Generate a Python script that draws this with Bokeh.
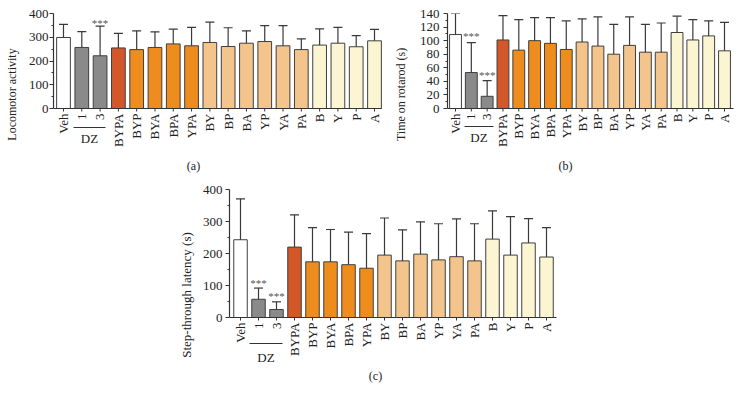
import math
from bokeh.plotting import figure
from bokeh.layouts import column, row
from bokeh.models import Range1d, FixedTicker, Spacer
from bokeh.core.properties import value
from bokeh.embed import file_html
from bokeh.resources import INLINE

categories = ["Veh", "1", "3", "BYPA", "BYP", "BYA", "BPA", "YPA", "BY", "BP",
              "BA", "YP", "YA", "PA", "B", "Y", "P", "A"]
groups = ["veh", "dz", "dz", "four", "three", "three", "three", "three",
          "two", "two", "two", "two", "two", "two", "one", "one", "one", "one"]
group_label = "DZ"

loco_mean = [299, 257, 222, 255, 248, 257, 272, 264, 278, 261, 275, 282, 264, 248, 267, 275, 260, 285]
loco_err = [55, 67, 125, 61, 79, 66, 62, 78, 86, 79, 52, 67, 85, 45, 68, 67, 47, 48]
loco_ticks = [0, 100, 200, 300, 400]

rota_mean = [109, 53, 18, 101, 86, 100, 96, 87, 98, 92, 80, 93, 83, 83, 112, 101, 107, 85]
rota_err = [31, 44, 23, 36, 45, 34, 38, 42, 34, 43, 44, 42, 41, 43, 24, 30, 22, 42]
rota_ticks = [0, 20, 40, 60, 80, 100, 120, 140]

step_mean = [243, 57, 25, 220, 174, 174, 165, 154, 195, 177, 198, 180, 190, 177, 245, 195, 233, 189]
step_err = [128, 35, 24, 101, 107, 101, 102, 108, 116, 97, 101, 113, 118, 116, 88, 120, 76, 92]
step_ticks = [0, 100, 200, 300, 400]

group_colors = {"veh": "#ffffff", "dz": "#8a8a8a", "four": "#d4572a",
                "three": "#ee8c1e", "two": "#f3c48c", "one": "#fbf5d2"}

FONT = "Liberation Serif"
INK = "#222222"
LINE = "#333333"


def make_panel(means, errs, ticks, ylabel, caption, stars, g):
    # g holds page-pixel geometry (layout only)
    fig_w = g["fig_right"] - g["fig_left"]
    fig_h = g["fig_bottom"] - g["fig_top"]
    ppu = (g["y0"] - g["frame_top"]) / ticks[-1]          # px per data unit (y)
    sp = (g["last_x"] - g["first_x"]) / (len(categories) - 1)  # px per category

    def dy(page_y):
        return (g["y0"] - page_y) / ppu

    def dx(page_x):
        return (page_x - g["first_x"]) / sp

    p = figure(width=fig_w, height=fig_h, output_backend="svg", toolbar_location=None,
               x_range=Range1d(dx(g["frame_left"]), dx(g["fig_right"])),
               y_range=Range1d(dy(g["fig_bottom"]), dy(g["frame_top"])),
               min_border_left=g["frame_left"] - g["fig_left"], min_border_right=0,
               min_border_top=g["frame_top"] - g["fig_top"], min_border_bottom=0)
    p.outline_line_color = None
    p.grid.visible = False
    p.xaxis.visible = False
    p.title.visible = False

    idx = list(range(len(categories)))
    colors = [group_colors[k] for k in groups]
    p.vbar(x=idx, top=means, width=0.75, fill_color=colors, line_color="#3f3f3f", line_width=1)
    tops = [m + e for m, e in zip(means, errs)]
    p.segment(x0=idx, y0=means, x1=idx, y1=tops, line_color="#3a3a3a", line_width=1.2)
    p.scatter(x=idx, y=tops, marker="dash", size=9, line_color="#3a3a3a", line_width=1.2)

    for (i, yv) in stars:
        p.text(x=[i], y=[yv], text=["***"], text_font=value(FONT), text_font_size="11px",
               text_align="center", text_baseline="middle", text_color="#555555")

    # category axis (baseline, ticks, vertical labels)
    x_axis_end = dx(g["axis_end"])
    p.segment(x0=[dx(g["frame_left"])], y0=[0], x1=[x_axis_end], y1=[0],
              line_color=LINE, line_width=1.2)
    p.segment(x0=idx, y0=[0] * len(idx), x1=idx, y1=[dy(g["y0"] + 3)] * len(idx),
              line_color=LINE, line_width=1)
    p.text(x=idx, y=[dy(g["label_top"])] * len(idx), text=categories, angle=math.pi / 2,
           text_font=value(FONT), text_font_size="13px", text_color=INK,
           text_align="right", text_baseline="middle")

    # DZ bracket
    p.segment(x0=[dx(g["dz_x0"])], y0=[dy(g["dz_line"])], x1=[dx(g["dz_x1"])], y1=[dy(g["dz_line"])],
              line_color=LINE, line_width=1)
    p.text(x=[dx((g["dz_x0"] + g["dz_x1"]) / 2)], y=[dy(g["dz_text"])], text=[group_label],
           text_font=value(FONT), text_font_size="13px", text_color=INK,
           text_align="center", text_baseline="middle")

    # panel caption
    p.text(x=[dx(g["cap_x"])], y=[dy(g["cap_y"])], text=[caption],
           text_font=value(FONT), text_font_size="12px", text_color=INK,
           text_align="center", text_baseline="middle")

    ya = p.yaxis[0]
    ya.bounds = (ticks[0], ticks[-1])
    step = ticks[1] - ticks[0]
    ya.ticker = FixedTicker(ticks=ticks, minor_ticks=[t + step / 2 for t in ticks[:-1]])
    ya.axis_label = ylabel
    ya.axis_label_text_font = FONT
    ya.axis_label_text_font_style = "normal"
    ya.axis_label_text_font_size = g["ylab_size"]
    ya.axis_label_text_color = INK
    ya.axis_label_standoff = g["ylab_standoff"]
    ya.major_label_text_font = FONT
    ya.major_label_text_font_size = "13px"
    ya.major_label_text_color = INK
    ya.major_label_standoff = g["tick_standoff"]
    ya.major_tick_out = 4
    ya.major_tick_in = 0
    ya.minor_tick_out = 2
    ya.minor_tick_in = 0
    ya.axis_line_color = LINE
    ya.axis_line_width = 1.2
    ya.major_tick_line_color = LINE
    ya.minor_tick_line_color = LINE
    return p


geo_a = dict(fig_left=0, fig_right=390, fig_top=0, fig_bottom=175,
             frame_left=53, frame_top=13, y0=108, first_x=63, last_x=374, axis_end=381,
             label_top=113, dz_x0=73, dz_x1=105, dz_line=127, dz_text=138,
             cap_x=193, cap_y=165, ylab_size="12px", ylab_standoff=7, tick_standoff=1)
geo_b = dict(fig_left=390, fig_right=741, fig_top=0, fig_bottom=175,
             frame_left=447, frame_top=13, y0=108, first_x=455, last_x=724, axis_end=733,
             label_top=113, dz_x0=464, dz_x1=493, dz_line=126, dz_text=137,
             cap_x=565, cap_y=165, ylab_size="12px", ylab_standoff=9, tick_standoff=4)
geo_c = dict(fig_left=170, fig_right=570, fig_top=175, fig_bottom=400,
             frame_left=229, frame_top=189, y0=317, first_x=240, last_x=546, axis_end=556,
             label_top=322, dz_x0=249, dz_x1=282, dz_line=343, dz_text=357,
             cap_x=375, cap_y=375, ylab_size="13px", ylab_standoff=6, tick_standoff=3)

pa = make_panel(loco_mean, loco_err, loco_ticks, "Locomotor activity", "(a)", [(2, 362)], geo_a)
pb = make_panel(rota_mean, rota_err, rota_ticks, "Time on rotarod (s)", "(b)",
                [(1, 106.6), (2, 49)], geo_b)
pc = make_panel(step_mean, step_err, step_ticks, "Step-through latency (s)", "(c)",
                [(1, 108), (2, 67)], geo_c)

layout = column(row(pa, pb), row(Spacer(width=geo_c["fig_left"], height=225), pc))

open("out.html", "w").write(file_html(layout, INLINE))
